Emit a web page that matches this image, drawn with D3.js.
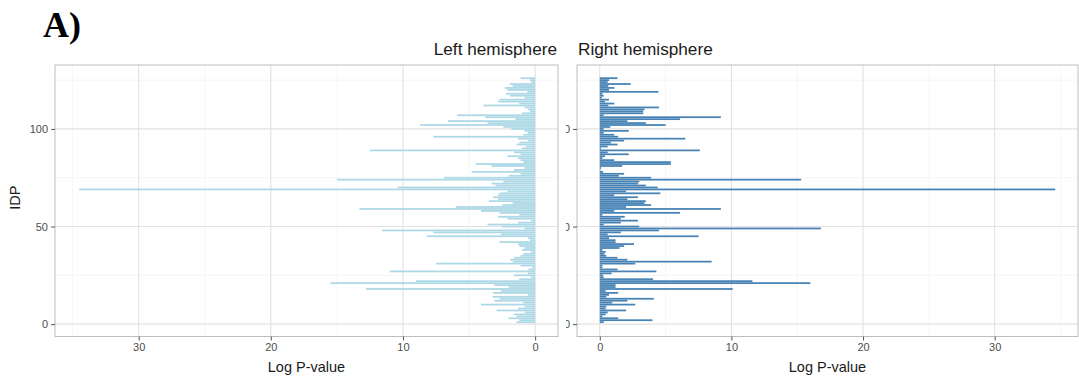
<!DOCTYPE html>
<html>
<head>
<meta charset="utf-8">
<script src="https://cdn.jsdelivr.net/npm/d3@7"></script>
<style>
  body { margin: 0; background: #fff; }
  svg { display: block; font-family: "Liberation Sans", Arial, sans-serif; }
</style>
</head>
<body>
<div id="chart"></div>
<script>
const width = 1079;
const height = 379;

// -log10 P per IDP, listed from the top bar (highest IDP) down to IDP 1
const leftP = [
    1.1, 0.4, 0.3, 1.9, 1.7, 2.3, 2.1, 0.6, 2.2, 1.9,
    0.8, 2.7, 2.8, 1.2, 3.9, 0.8, 0.55, 0.4, 1.0, 5.9,
    3.8, 1.5, 6.6, 3.6, 8.7, 2.4, 1.8, 0.8, 0.55, 0.9,
    7.7, 1.3, 0.55, 1.2, 1.4, 0.7, 1.0, 12.5, 1.6, 1.1,
    2.1, 1.3, 1.1, 0.9, 4.5, 3.3, 0.8, 1.6, 4.8, 1.1,
    2.0, 6.9, 15, 2.4, 3.3, 3.0, 10.4, 34.5, 2.1, 2.7,
    2.8, 3.2, 2.8, 3.5, 1.7, 2.5, 6.0, 13.3, 4.1, 2.7,
    1.2, 2.8, 2.1, 0.3, 1.3, 3.6, 2.5, 0.8, 11.6, 7.7,
    2.6, 8.2, 0.55, 0.4, 2.7, 1.3, 1.2, 0.8, 1.0, 0.3,
    0.9, 1.1, 1.6, 1.9, 1.7, 7.5, 1.1, 0.2, 0.5, 11.0,
    0.55, 1.6, 0.3, 1.2, 9.0, 15.5, 3.1, 2.0, 12.8, 2.6,
    3.2, 0.55, 3.2, 2.7, 3.1, 0.9, 4.1, 0.8, 1.3, 2.9,
    0.8, 1.6, 1.4, 2.0, 1.2, 1.4
];

const rightP = [
    1.35, 0.7, 0.6, 2.35, 0.65, 1.1, 0.7, 4.45, 0.2, 0.3,
    0.15, 0.7, 0.4, 1.1, 0.65, 4.5, 3.4, 3.3, 3.3, 0.3,
    9.2, 6.1, 2.1, 3.5, 5.0, 0.8, 0.3, 2.2, 0.3, 1.1,
    1.4, 6.5, 1.85, 0.85, 1.35, 0.6, 0.1, 7.6, 0.6, 2.2,
    0.4, 0.2, 1.1, 5.4, 5.4, 1.7, 0.1, 0.05, 0.25, 1.85,
    1.45, 3.9, 15.3, 3.0, 2.9, 3.5, 4.4, 34.6, 2.0, 4.6,
    1.1, 2.9, 2.1, 3.5, 3.4, 3.9, 2.0, 9.2, 1.1, 6.1,
    0.2, 1.9, 1.6, 2.9, 1.6, 0.3, 3.0, 16.8, 4.5, 1.6,
    0.6, 7.5, 0.7, 1.2, 1.2, 2.6, 1.85, 1.5, 0.2, 0.45,
    0.35, 0.5, 1.35, 2.1, 8.5, 2.7, 0.2, 0.2, 1.35, 4.3,
    0.9, 0.25, 0.3, 4.05, 11.6, 16.0, 1.2, 1.2, 10.1, 0.45,
    1.4, 0.7, 0.5, 4.1, 2.1, 0.95, 2.7, 0.5, 0.45, 2.0,
    0.6, 0.45, 0.2, 1.4, 4.0, 0.3
];

const panelTitles = ["Left hemisphere", "Right hemisphere"];
const xTicks = [0, 10, 20, 30];
const xMinor = [5, 15, 25, 35];
const yTicks = [0, 50, 100];
const yMinor = [25, 75, 125];

const toRows = vals => vals.map((v, i) => ({ idp: vals.length - i, p: v }));
const leftData = toRows(leftP);
const rightData = toRows(rightP);
const nIdp = leftData.length;

const svg = d3.select("#chart").append("svg")
    .attr("width", width)
    .attr("height", height);

svg.append("text")
    .attr("x", 43)
    .attr("y", 37)
    .style("font-family", "'Liberation Serif', 'Times New Roman', serif")
    .style("font-weight", "bold")
    .style("font-size", "36px")
    .attr("fill", "#000")
    .text("A)");

const plotTop = 65, plotBottom = 336.5;

// shared scales (ggplot style 5% expansion)
const pMax = d3.max(leftP.concat(rightP));
const xDom = [-0.05 * pMax, pMax * 1.05];
const ySpan = nIdp - 0.1;
const y = d3.scaleLinear()
    .domain([0.55 - 0.05 * ySpan - 0.6, nIdp + 0.45 + 0.05 * ySpan])
    .range([plotBottom, plotTop]);

const panels = [
    { x0: 55, x1: 558, data: leftData, color: "#add8e6", reversed: true, title: panelTitles[0] },
    { x0: 577, x1: 1078, data: rightData, color: "#4682b4", reversed: false, title: panelTitles[1] }
];

panels.forEach((pn, k) => {
    const x = d3.scaleLinear()
        .domain(xDom)
        .range(pn.reversed ? [pn.x1, pn.x0] : [pn.x0, pn.x1]);

    const g = svg.append("g");

    // grid
    g.selectAll(".vminor").data(xMinor).enter().append("line")
        .attr("x1", d => x(d)).attr("x2", d => x(d))
        .attr("y1", plotTop).attr("y2", plotBottom)
        .attr("stroke", "#f0f0f0").attr("stroke-width", 0.6);
    g.selectAll(".hminor").data(yMinor).enter().append("line")
        .attr("x1", pn.x0).attr("x2", pn.x1)
        .attr("y1", d => y(d)).attr("y2", d => y(d))
        .attr("stroke", "#f0f0f0").attr("stroke-width", 0.6);
    g.selectAll(".vmajor").data(xTicks).enter().append("line")
        .attr("x1", d => x(d)).attr("x2", d => x(d))
        .attr("y1", plotTop).attr("y2", plotBottom)
        .attr("stroke", "#e2e2e2").attr("stroke-width", 1.1);
    g.selectAll(".hmajor").data(yTicks).enter().append("line")
        .attr("x1", pn.x0).attr("x2", pn.x1)
        .attr("y1", d => y(d)).attr("y2", d => y(d))
        .attr("stroke", "#e2e2e2").attr("stroke-width", 1.1);

    // bars
    g.selectAll(".bar").data(pn.data).enter().append("rect")
        .attr("x", d => Math.min(x(0), x(d.p)))
        .attr("width", d => Math.abs(x(d.p) - x(0)))
        .attr("y", d => y(d.idp + 0.45))
        .attr("height", d => y(d.idp - 0.45) - y(d.idp + 0.45))
        .attr("fill", pn.color);

    // border
    g.append("rect")
        .attr("x", pn.x0).attr("y", plotTop)
        .attr("width", pn.x1 - pn.x0).attr("height", plotBottom - plotTop)
        .attr("fill", "none")
        .attr("stroke", "#bdbdbd").attr("stroke-width", 1);

    // x axis
    const xAxis = g.append("g")
        .attr("transform", `translate(0,${plotBottom})`)
        .call(d3.axisBottom(x).tickValues(xTicks).tickSize(4).tickPadding(3));
    xAxis.select(".domain").remove();
    xAxis.selectAll("line").attr("stroke", "#555");
    xAxis.selectAll("text")
        .attr("fill", "#4d4d4d")
        .style("font-size", "11px")
        .style("font-family", "'Liberation Sans', Arial, sans-serif");

    // y axis
    const yAxis = g.append("g")
        .attr("transform", `translate(${pn.x0},0)`)
        .call(d3.axisLeft(y).tickValues(yTicks).tickSize(4).tickPadding(3));
    yAxis.select(".domain").remove();
    yAxis.selectAll("line").attr("stroke", "#555");
    yAxis.selectAll("text")
        .attr("fill", "#4d4d4d")
        .style("font-size", "11px")
        .style("font-family", "'Liberation Sans', Arial, sans-serif");

    if (k === 1) {
        // labels of the second panel are cut off by the first panel
        svg.append("clipPath").attr("id", "ycut")
            .append("rect")
            .attr("x", -11).attr("y", -20).attr("width", 7).attr("height", 40);
        yAxis.selectAll("text").attr("clip-path", "url(#ycut)");
    }

    // facet title
    svg.append("text")
        .attr("x", pn.reversed ? pn.x1 - 1 : pn.x0 + 1)
        .attr("y", 55)
        .attr("text-anchor", pn.reversed ? "end" : "start")
        .attr("fill", "#1a1a1a")
        .style("font-size", "17.2px")
        .text(pn.title);

    // x title
    svg.append("text")
        .attr("x", (pn.x0 + pn.x1) / 2)
        .attr("y", 372)
        .attr("text-anchor", "middle")
        .attr("fill", "#1a1a1a")
        .style("font-size", "14.5px")
        .text("Log P-value");
});

svg.append("text")
    .attr("transform", `translate(20,${(plotTop + plotBottom) / 2 - 3}) rotate(-90)`)
    .attr("text-anchor", "middle")
    .attr("fill", "#1a1a1a")
    .style("font-size", "14.5px")
    .text("IDP");
</script>
</body>
</html>
